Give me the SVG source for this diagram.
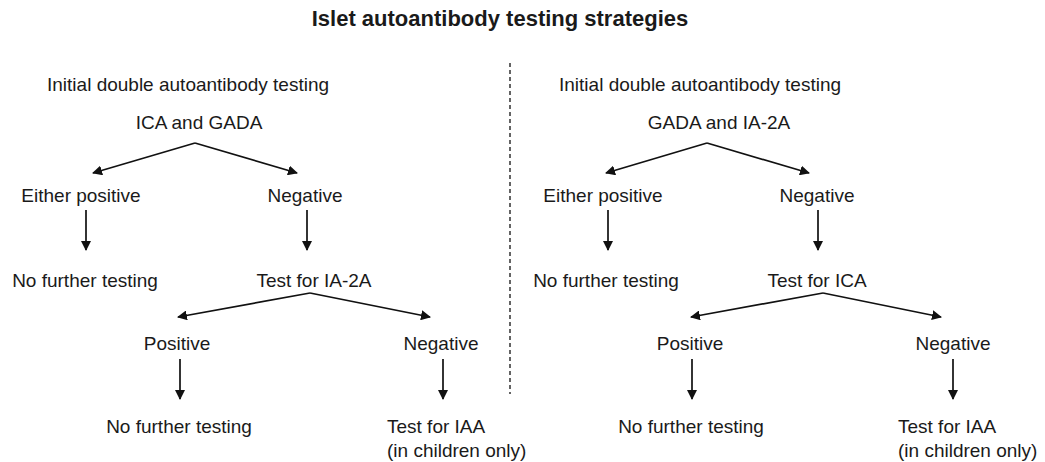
<svg xmlns="http://www.w3.org/2000/svg" width="1045" height="462" viewBox="0 0 1045 462">
  <style>
    text { font-family: "Liberation Sans", Arial, sans-serif; font-size: 19px; fill: #1a1a1a; }
    .title { font-size: 22px; font-weight: bold; }
    .mid { text-anchor: middle; }
    .conn line { stroke: #111; stroke-width: 1.7; fill: none; }
    .divider { stroke: #111; stroke-width: 1.3; stroke-dasharray: 4 3; }
  </style>
  <defs>
    <marker id="arrow" viewBox="0 0 10 10" refX="9" refY="5" markerWidth="10" markerHeight="10" markerUnits="userSpaceOnUse" orient="auto">
      <path d="M0,0 L10,5 L0,10 z" fill="#111"/>
    </marker>
  </defs>

  <rect width="1045" height="462" fill="#fff"/>

  <text id="title" class="title mid" x="500" y="26">Islet autoantibody testing strategies</text>

  <line class="divider" x1="510" y1="63" x2="510" y2="394"/>

  <!-- Left strategy: ICA and GADA first -->
  <g id="L-header"><text x="47" y="91">Initial double autoantibody testing</text></g>
  <g id="L-start"><text class="mid" x="199" y="129">ICA and GADA</text></g>
  <g id="L-either"><text class="mid" x="81" y="202">Either positive</text></g>
  <g id="L-neg1"><text class="mid" x="305" y="202">Negative</text></g>
  <g id="L-stop1"><text class="mid" x="85" y="287">No further testing</text></g>
  <g id="L-ia2a"><text class="mid" x="314" y="287">Test for IA-2A</text></g>
  <g id="L-pos2"><text class="mid" x="177" y="350">Positive</text></g>
  <g id="L-neg2"><text class="mid" x="441" y="350">Negative</text></g>
  <g id="L-stop2"><text class="mid" x="179" y="433">No further testing</text></g>
  <g id="L-iaa"><text x="387" y="433">Test for IAA</text><text x="387" y="457">(in children only)</text></g>

  <!-- Right strategy: GADA and IA-2A first -->
  <g id="R-header"><text x="559" y="91">Initial double autoantibody testing</text></g>
  <g id="R-start"><text class="mid" x="719" y="129">GADA and IA-2A</text></g>
  <g id="R-either"><text class="mid" x="603" y="202">Either positive</text></g>
  <g id="R-neg1"><text class="mid" x="817" y="202">Negative</text></g>
  <g id="R-stop1"><text class="mid" x="606" y="287">No further testing</text></g>
  <g id="R-ica"><text class="mid" x="817" y="287">Test for ICA</text></g>
  <g id="R-pos2"><text class="mid" x="690" y="350">Positive</text></g>
  <g id="R-neg2"><text class="mid" x="953" y="350">Negative</text></g>
  <g id="R-stop2"><text class="mid" x="691" y="433">No further testing</text></g>
  <g id="R-iaa"><text x="898" y="433">Test for IAA</text><text x="898" y="457">(in children only)</text></g>

  <g id="connectors" class="conn">
    <!-- left -->
    <line x1="195" y1="143" x2="93" y2="173" marker-end="url(#arrow)"/>
    <line x1="195" y1="143" x2="297" y2="173" marker-end="url(#arrow)"/>
    <line x1="86" y1="210" x2="86" y2="250" marker-end="url(#arrow)"/>
    <line x1="307" y1="210" x2="307" y2="250" marker-end="url(#arrow)"/>
    <line x1="310" y1="293" x2="178" y2="317" marker-end="url(#arrow)"/>
    <line x1="310" y1="293" x2="430" y2="317" marker-end="url(#arrow)"/>
    <line x1="180" y1="359" x2="180" y2="399" marker-end="url(#arrow)"/>
    <line x1="443" y1="359" x2="443" y2="399" marker-end="url(#arrow)"/>
    <!-- right -->
    <line x1="707" y1="143" x2="606" y2="173" marker-end="url(#arrow)"/>
    <line x1="707" y1="143" x2="809" y2="173" marker-end="url(#arrow)"/>
    <line x1="608" y1="210" x2="608" y2="250" marker-end="url(#arrow)"/>
    <line x1="818" y1="210" x2="818" y2="250" marker-end="url(#arrow)"/>
    <line x1="823" y1="293" x2="691" y2="317" marker-end="url(#arrow)"/>
    <line x1="823" y1="293" x2="941" y2="317" marker-end="url(#arrow)"/>
    <line x1="692" y1="359" x2="692" y2="399" marker-end="url(#arrow)"/>
    <line x1="953" y1="359" x2="953" y2="399" marker-end="url(#arrow)"/>
  </g>
</svg>
